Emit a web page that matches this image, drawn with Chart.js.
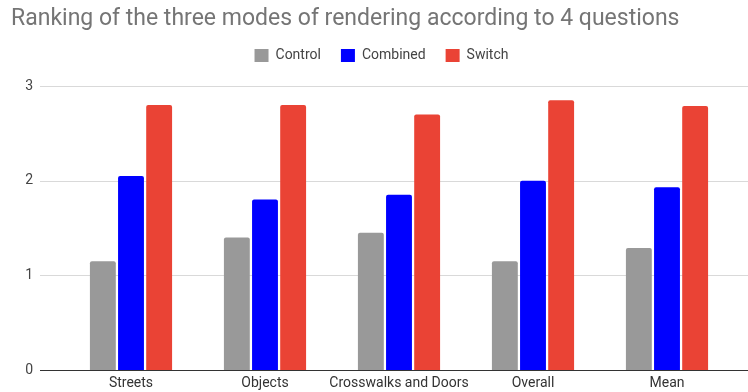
<!DOCTYPE html>
<html>
<head>
<meta charset="utf-8">
<script src="https://cdn.jsdelivr.net/npm/chart.js@4/dist/chart.umd.min.js"></script>
<style>
  html, body { margin: 0; padding: 0; background: #fff; overflow: hidden; }
  canvas { display: block; }
</style>
</head>
<body>
<canvas id="chart" width="748" height="392"></canvas>
<script>
// Data
const questions = ['Streets', 'Objects', 'Crosswalks and Doors', 'Overall', 'Mean'];
const controlScores = [1.15, 1.4, 1.45, 1.15, 1.29];
const combinedScores = [2.05, 1.8, 1.85, 2.0, 1.93];
const switchScores = [2.8, 2.8, 2.7, 2.85, 2.79];
const yTicks = [0, 1, 2, 3];

// Google-style gridlines that run past the plot area on both sides
const wideGrid = {
    id: 'wideGrid',
    beforeDatasetsDraw(chart) {
        const ctx = chart.ctx;
        const y = chart.scales.y;
        ctx.save();
        yTicks.forEach(v => {
            const py = Math.round(y.getPixelForValue(v)) + 0.5;
            ctx.beginPath();
            ctx.strokeStyle = v === 0 ? '#333333' : '#d9d9d9';
            ctx.lineWidth = 1;
            ctx.moveTo(40, py);
            ctx.lineTo(chart.width, py);
            ctx.stroke();
        });
        ctx.restore();
    }
};

// extra room under the legend, and nudge it a bit right like the original
const legendGap = {
    id: 'legendGap',
    afterInit(chart) {
        const lg = chart.legend;
        const fit = lg.fit;
        lg.fit = function () {
            fit.call(this);
            this.height += 13.6;
        };
    },
    afterLayout(chart) {
        chart.legend.left += 9;
        chart.legend.right += 9;
    }
};

const ctx = document.getElementById('chart').getContext('2d');
new Chart(ctx, {
    type: 'bar',
    data: {
        labels: questions,
        datasets: [
            { label: 'Control', data: controlScores, backgroundColor: '#999999' },
            { label: 'Combined', data: combinedScores, backgroundColor: '#0000ff' },
            { label: 'Switch', data: switchScores, backgroundColor: '#ea4335' }
        ]
    },
    options: {
        responsive: false,
        animation: false,
        layout: { padding: { left: 11, right: 14, top: 0, bottom: 0 } },
        datasets: {
            bar: {
                categoryPercentage: 0.63,
                barPercentage: 0.92,
                borderRadius: { topLeft: 2, topRight: 2 },
                borderSkipped: 'bottom'
            }
        },
        plugins: {
            title: {
                display: true,
                text: 'Ranking of the three modes of rendering according to 4 questions',
                align: 'start',
                color: '#757575',
                font: { family: 'Roboto', size: 23, weight: 'normal', lineHeight: 0.8 },
                padding: { top: 10, bottom: 0 }
            },
            legend: {
                position: 'top',
                labels: {
                    boxWidth: 14,
                    boxHeight: 13,
                    color: '#444444',
                    font: { family: 'Roboto', size: 14 },
                    padding: 20
                }
            },
            tooltip: { enabled: false }
        },
        scales: {
            x: {
                afterFit(scale) { scale.height = 22; },
                grid: { display: false, drawTicks: false },
                border: { display: false },
                ticks: {
                    color: '#333333',
                    font: { family: 'Roboto', size: 14 },
                    padding: 5,
                    maxRotation: 0,
                    autoSkip: false
                }
            },
            y: {
                min: 0,
                max: 3,
                afterFit(scale) {
                    scale.width = 53;
                    // the tick padding is only for the label offset, not the plot edges
                    scale.paddingTop = 8;
                    scale.paddingBottom = 0;
                },
                grid: { display: false, drawTicks: false },
                border: { display: false },
                ticks: {
                    stepSize: 1,
                    color: '#444444',
                    font: { family: 'Roboto', size: 14 },
                    padding: 31
                }
            }
        }
    },
    plugins: [wideGrid, legendGap]
});
</script>
</body>
</html>
